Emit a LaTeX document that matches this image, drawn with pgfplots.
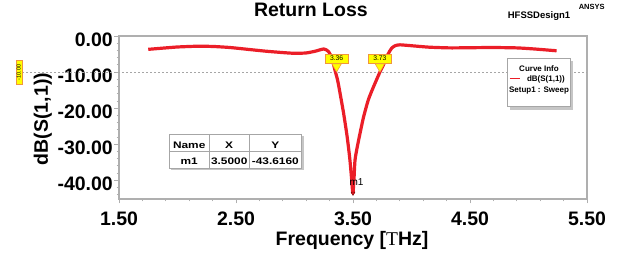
\documentclass[border=0pt]{standalone}
\usepackage{pgfplots}
\pgfplotsset{compat=1.18}
\usepackage{fontspec}
\setmainfont{Liberation Sans}
\newfontfamily\serifT{Liberation Serif}
\usetikzlibrary{shadows}
\definecolor{curvered}{RGB}{235,30,40}
\definecolor{axgray}{RGB}{175,175,175}
\definecolor{mkyellow}{RGB}{255,255,0}
\definecolor{mkorange}{RGB}{240,150,60}

\begin{document}
\begin{tikzpicture}[x=1pt,y=1pt]
\useasboundingbox (0,0) rectangle (619,256);
\begin{axis}[
  at={(119pt,57pt)}, anchor=south west,
  scale only axis, width=468pt, height=163pt,
  xmin=1.5, xmax=5.5, ymin=-45.2, ymax=0,
  clip=false,
  axis line style={axgray, line width=1.2pt},
  xtick={1.5,2.5,3.5,4.5,5.5},
  xticklabels={1.50,2.50,3.50,4.50,5.50},
  ytick={-40,-30,-20,-10,0},
  yticklabels={-40.00,-30.00,-20.00,-10.00,0.00},
  minor xtick={1.7,1.9,2.1,2.3,2.7,2.9,3.1,3.3,3.7,3.9,4.1,4.3,4.7,4.9,5.1,5.3},
  minor ytick={-44,-42,-38,-36,-34,-32,-28,-26,-24,-22,-18,-16,-14,-12,-8,-6,-4,-2},
  xtick pos=bottom, ytick pos=left,
  tick align=outside,
  major tick length=4.5pt, minor tick length=2.5pt,
  every tick/.style={axgray, line width=0.8pt},
  tick label style={font=\bfseries\fontsize{19.5}{20}\selectfont},
  yticklabel style={anchor=east, inner sep=0pt, xshift=-1.5pt, yshift=-3.7pt},
  xticklabel style={anchor=base, inner sep=0pt, yshift=-22.5pt},
  title={Return Loss},
  title style={at={(axis description cs:0.410,1.0816)}, anchor=base, font=\bfseries\fontsize{19.5}{20}\selectfont},
  xlabel={Frequency [{\serifT\mdseries T}Hz]},
  xlabel style={at={(axis description cs:0.498,-0.252)}, anchor=center, font=\bfseries\fontsize{19.5}{20}\selectfont},
  ylabel={dB(S(1,1))},
  ylabel style={at={(axis description cs:-0.163,0.491)}, anchor=center, font=\bfseries\fontsize{19.5}{20}\selectfont},
]
% reference line at -10 dB
\addplot[gray!70, line width=0.5pt, dash pattern=on 2pt off 2pt] coordinates {(0.671,-10) (5.5,-10)};
% return loss curve
\addplot[curvered, line width=3.2pt, line join=round, smooth, tension=0.4] coordinates {
(1.75,-3.7) (1.9,-3.3) (2.0,-3.05) (2.16,-2.85) (2.3,-2.9) (2.45,-3.2) (2.6,-3.7)
(2.75,-4.2) (2.9,-4.6) (3.0,-4.8) (3.1,-4.7) (3.18,-4.2) (3.25,-3.6) (3.29,-4.3)
(3.32,-6.2) (3.346,-9.5) (3.37,-12.5) (3.40,-17.8) (3.42,-21.5) (3.446,-27)
(3.46,-30.5) (3.474,-34.5) (3.485,-38.5) (3.495,-42.5) (3.5,-43.6) (3.508,-40)
(3.517,-34.5) (3.535,-31) (3.56,-27) (3.59,-22.5) (3.63,-17.8) (3.67,-14.5)
(3.73,-10) (3.76,-8.0) (3.80,-5.0) (3.83,-3.4) (3.86,-2.7) (3.90,-2.45) (4.0,-2.7)
(4.15,-3.1) (4.33,-3.3) (4.5,-3.25) (4.7,-3.2) (4.9,-3.3) (5.05,-3.6) (5.24,-4.1)
};
% -10 dB crossing markers
\addplot[only marks, mark=triangle*, mark size=5.5pt,
  mark options={yshift=5.5pt, rotate=180, fill=mkyellow, draw=mkorange, line width=0.5pt}]
  coordinates {(3.36,-10) (3.73,-10)};
\begin{scope}[every node/.style={fill=mkyellow, draw=mkorange, line width=0.5pt,
    minimum width=23pt, minimum height=9.3pt, inner sep=0pt, font=\fontsize{6.8}{7}\selectfont, yshift=13.6pt}]
\node at (axis cs:3.36,-10) {3.36};
\node at (axis cs:3.73,-10) {3.73};
\end{scope}
% m1 marker
\addplot[only marks, mark=triangle, mark size=2.2pt, mark options={rotate=180, draw=red!50!black, line width=0.5pt}]
  coordinates {(3.5,-43.6)};
\end{axis}

% header texts
\node[anchor=base, font=\bfseries\fontsize{9.5}{10}\selectfont] at (539,237.7) {HFSSDesign1};
\node[anchor=base, font=\bfseries\fontsize{7.5}{8}\selectfont] at (591.7,246.7) {ANSYS};
% -10 marker at left
\node[rotate=90, fill=mkyellow, draw=mkorange, line width=0.4pt, minimum width=23.6pt, minimum height=6pt, inner sep=0pt,
  font=\fontsize{5.5}{6}\selectfont] at (18.7,183.5) {-10.00};
% m1 label
\node[anchor=base west, inner sep=0pt, font=\fontsize{10}{10}\selectfont] at (349.3,70.3) {m1};

% Curve Info box
\fill[gray!45] (510.3,146.3) rectangle (573,194.7);
\draw[gray!70, fill=white, line width=0.6pt] (507.3,149.3) rectangle (570,197.7);
\node[anchor=base, inner sep=0pt, font=\bfseries\fontsize{8}{9}\selectfont] at (539,184.3) {Curve Info};
\node[anchor=base west, inner sep=0pt, font=\bfseries\fontsize{8}{9}\selectfont] at (509.3,174.3)
  {\textcolor{curvered}{\rule[2.5pt]{10pt}{1pt}}\hspace{7.5pt}dB(S(1,1))};
\node[anchor=base, inner sep=0pt, font=\bfseries\fontsize{8}{9}\selectfont] at (539,163.7) {Setup1 : Sweep};

% marker table
\fill[gray!45] (171,85.7) rectangle (303.7,120);
\draw[gray!70, fill=white, line width=0.6pt] (169,87.7) rectangle (301.7,122);
\draw[gray!70, line width=0.6pt] (209.3,87.7) -- (209.3,122) (249,87.7) -- (249,122) (169,104.3) -- (301.7,104.3);
\begin{scope}[every node/.style={anchor=base, inner sep=0pt, font=\bfseries\fontsize{9.5}{10}\selectfont}]
\node at (189.2,107.3) {\scalebox{1.25}[1]{Name}};
\node at (229.2,107.3) {\scalebox{1.25}[1]{X}};
\node at (275.3,107.3) {\scalebox{1.25}[1]{Y}};
\node at (189.2,91) {\scalebox{1.25}[1]{m1}};
\node at (229.2,91) {\scalebox{1.25}[1]{3.5000}};
\node at (275.3,91) {\scalebox{1.25}[1]{-43.6160}};
\end{scope}
\end{tikzpicture}
\end{document}
